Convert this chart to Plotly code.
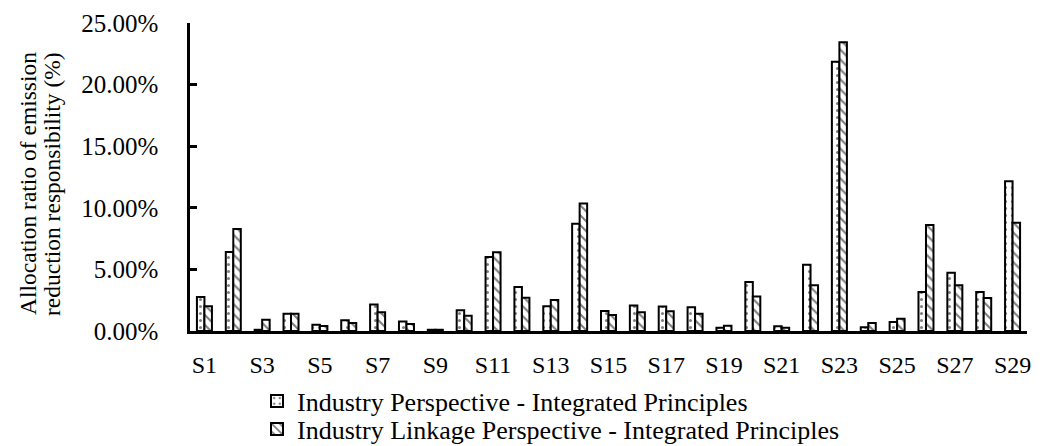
import plotly.graph_objects as go

categories = [f"S{i}" for i in range(1, 30)]

industry_perspective = [2.76, 6.41, 0.10, 1.41, 0.51, 0.87, 2.16, 0.78, 0.10, 1.68,
                        6.00, 3.57, 2.00, 8.71, 1.62, 2.06, 1.98, 1.92, 0.27, 3.98,
                        0.38, 5.38, 21.86, 0.30, 0.73, 3.17, 4.73, 3.17, 12.15]
industry_linkage = [2.00, 8.28, 0.92, 1.41, 0.41, 0.65, 1.52, 0.57, 0.10, 1.24,
                    6.39, 2.70, 2.52, 10.34, 1.30, 1.52, 1.60, 1.41, 0.43, 2.81,
                    0.27, 3.71, 23.43, 0.65, 1.00, 8.60, 3.71, 2.68, 8.79]

series_names = ["Industry Perspective - Integrated Principles",
                "Industry Linkage Perspective - Integrated Principles"]
tick_labels = categories[::2]
y_ticks = [0, 5, 10, 15, 20, 25]
y_tick_text = ["0.00%", "5.00%", "10.00%", "15.00%", "20.00%", "25.00%"]

FONT = "Liberation Serif"

fig = go.Figure()
fig.add_trace(go.Bar(
    x=categories, y=industry_perspective, name=series_names[0], legend="legend",
    marker=dict(color="white", line=dict(color="black", width=2),
                pattern=dict(shape=".", fgcolor="black", bgcolor="white",
                             size=7, solidity=0.15)),
))
fig.add_trace(go.Bar(
    x=categories, y=industry_linkage, name=series_names[1], legend="legend2",
    marker=dict(color="white", line=dict(color="black", width=2),
                pattern=dict(shape="\\", fgcolor="black", bgcolor="white",
                             size=7, solidity=0.3)),
))

# the page body adds an 8px offset; figure is sized to compensate
OFF = 8
L, R, T, B = 190 - OFF, 19, 23 - OFF, 115
W, H = 1046 - OFF, 446 - OFF
pw = W - L - R
ph = H - T - B
PLOT_LEFT, PLOT_BOTTOM = 190, 331  # reference pixel positions

def px_x(px):
    return (px - PLOT_LEFT) / pw

def px_y(py):
    return (PLOT_BOTTOM - py) / ph

legend_common = dict(
    orientation="v", xanchor="left", yanchor="middle",
    font=dict(family=FONT, size=26, color="black"),
    bgcolor="rgba(0,0,0,0)", itemwidth=30,
)

fig.update_layout(
    width=W, height=H,
    margin=dict(l=L, r=R, t=T, b=B, pad=0, autoexpand=False),
    paper_bgcolor="white", plot_bgcolor="white",
    barmode="group", bargap=0.48, bargroupgap=0,
    font=dict(family=FONT, size=24, color="black"),
    showlegend=True,
    legend=dict(x=px_x(257), y=px_y(401), **legend_common),
    legend2=dict(x=px_x(257), y=px_y(429), **legend_common),
    xaxis=dict(
        type="category", tickmode="array", tickvals=tick_labels, ticktext=tick_labels,
        showline=True, linecolor="black", linewidth=2.5, ticks="",
        showgrid=False, zeroline=False, ticklabelstandoff=10, automargin=False,
        tickfont=dict(family=FONT, size=24, color="black"),
    ),
    yaxis=dict(
        range=[0, 25], tickmode="array", tickvals=y_ticks, ticktext=y_tick_text,
        showline=True, linecolor="black", linewidth=2.5,
        ticks="inside", ticklen=7, tickwidth=2.5, tickcolor="black",
        ticklabelstandoff=24, automargin=False,
        showgrid=False, zeroline=False,
        tickfont=dict(family=FONT, size=25, color="black"),
    ),
    annotations=[
        dict(text="Allocation ratio of emission", textangle=-90,
             xref="paper", yref="paper", x=px_x(28), y=px_y(184),
             xanchor="center", yanchor="middle", showarrow=False,
             font=dict(family=FONT, size=23.5, color="black")),
        dict(text="reduction responsibility (%)", textangle=-90,
             xref="paper", yref="paper", x=px_x(52), y=px_y(184),
             xanchor="center", yanchor="middle", showarrow=False,
             font=dict(family=FONT, size=23.5, color="black")),
    ],
)

fig.write_html("out.html")
